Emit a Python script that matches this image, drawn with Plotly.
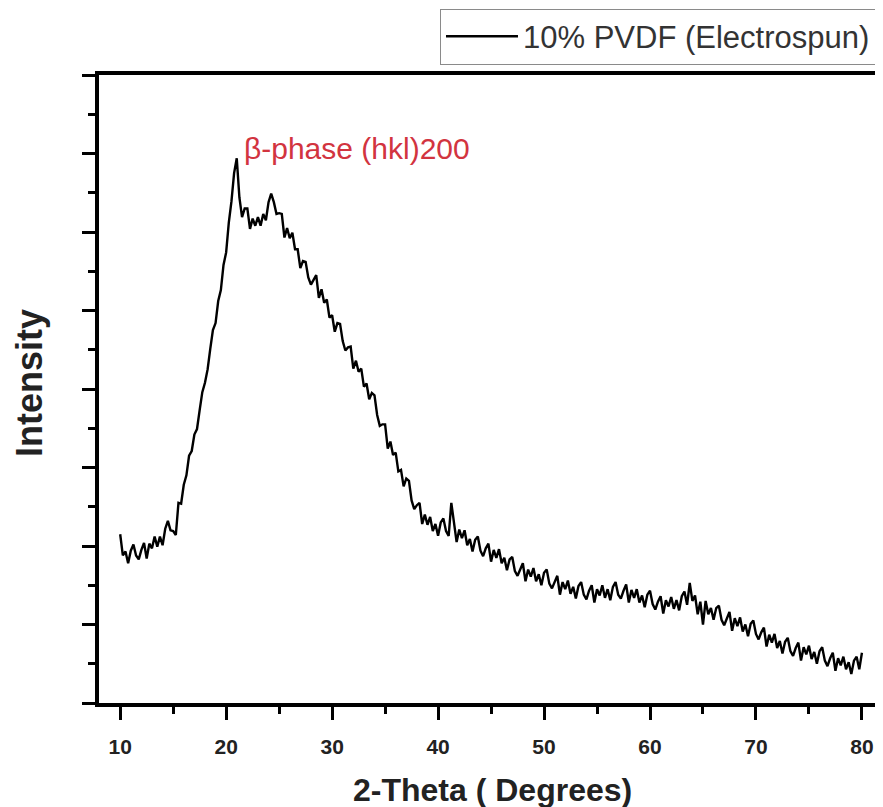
import numpy as np
import plotly.graph_objects as go

# 2-theta grid (degrees), 0.25 deg step from 10 to 80
two_theta = np.round(np.arange(10.0, 80.001, 0.25), 2)

# Intensity (arbitrary units), 4 values per degree
intensity = [
    215, 188, 193, 178,   # 10
    194, 202, 188, 183,   # 11
    195, 204, 184, 203,   # 12
    197, 212, 199, 212,   # 13
    201, 222, 232, 220,   # 14
    219, 214, 255, 254,   # 15
    278, 290, 315, 321,   # 16
    342, 349, 373, 396,   # 17
    408, 425, 451, 475,   # 18
    484, 512, 526, 558,   # 19
    574, 612, 639, 675,   # 20
    694, 644, 619, 630,   # 21
    630, 604, 617, 608,   # 22
    619, 608, 623, 615,   # 23
    638, 649, 638, 623,   # 24
    624, 623, 593, 605,   # 25
    592, 599, 578, 578,   # 26
    554, 563, 562, 542,   # 27
    533, 540, 545, 516,   # 28
    527, 510, 514, 491,   # 29
    494, 473, 484, 483,   # 30
    461, 449, 453, 454,   # 31
    426, 436, 422, 426,   # 32
    403, 407, 387, 395,   # 33
    392, 367, 353, 355,   # 34
    355, 324, 333, 316,   # 35
    319, 295, 297, 276,   # 36
    286, 283, 258, 247,   # 37
    252, 255, 228, 240,   # 38
    227, 237, 219, 228,   # 39
    213, 230, 235, 219,   # 40
    213, 255, 229, 205,   # 41
    221, 210, 220, 201,   # 42
    209, 193, 208, 212,   # 43
    194, 187, 197, 203,   # 44
    180, 195, 185, 196,   # 45
    178, 185, 169, 183,   # 46
    186, 168, 162, 171,   # 47
    178, 155, 170, 161,   # 48
    172, 155, 164, 150,   # 49
    166, 170, 152, 146,   # 50
    155, 162, 138, 154,   # 51
    145, 156, 139, 148,   # 52
    133, 149, 154, 138,   # 53
    132, 143, 150, 128,   # 54
    145, 137, 150, 134,   # 55
    145, 131, 148, 154,   # 56
    138, 133, 143, 151,   # 57
    128, 144, 134, 145,   # 58
    128, 137, 122, 138,   # 59
    143, 126, 119, 129,   # 60
    136, 114, 131, 123,   # 61
    135, 120, 131, 118,   # 62
    136, 142, 125, 153,   # 63
    130, 137, 113, 129,   # 64
    100, 130, 113, 121,   # 65
    106, 121, 124, 106,   # 66
    99, 109, 116, 92,     # 67
    108, 98, 109, 91,     # 68
    100, 85, 101, 105,    # 69
    88, 81, 90, 96,       # 70
    72, 87, 77, 88,       # 71
    70, 79, 63, 78,       # 72
    83, 66, 60, 70,       # 73
    77, 54, 71, 62,       # 74
    73, 56, 65, 50,       # 75
    66, 71, 54, 47,       # 76
    57, 64, 41, 57,       # 77
    48, 59, 43, 52,       # 78
    37, 54, 59, 43,       # 79
    64,                   # 80
]

x_ticks = [10, 20, 30, 40, 50, 60, 70, 80]
series_name = "10% PVDF (Electrospun)"
peak_label = "\u03b2-phase (hkl)200"
peak_pos = (21.5, 706)
x_title = "2-Theta ( Degrees)"
y_title = "Intensity"

FONT = "Arial, Liberation Sans, Helvetica, sans-serif"

fig = go.Figure()
fig.add_trace(go.Scatter(
    x=two_theta, y=intensity, mode="lines", name=series_name,
    line=dict(color="black", width=2.4),
))

fig.add_annotation(
    x=peak_pos[0], y=peak_pos[1], xref="x", yref="y",
    text=peak_label, showarrow=False, xanchor="left", yanchor="middle",
    font=dict(family=FONT, size=30, color="#d2343f"),
)
# axis titles
fig.add_annotation(
    x=0.5026, y=-0.138, xref="paper", yref="paper",
    text="<b>" + x_title + "</b>", showarrow=False, xanchor="center", yanchor="middle",
    font=dict(family=FONT, size=32, color="#222222"),
)
fig.add_annotation(
    x=-0.088, y=0.51, xref="paper", yref="paper",
    text="<b>" + y_title + "</b>", showarrow=False, xanchor="center", yanchor="middle",
    textangle=-90, borderpad=0,
    font=dict(family=FONT, size=36, color="#222222"),
)

axis_common = dict(
    showline=True, linewidth=3.5, linecolor="black", mirror=True,
    ticks="outside", ticklen=13, tickwidth=3, tickcolor="black",
    showgrid=False, zeroline=False, automargin=False,
)

fig.update_xaxes(
    range=[8, 81.8], tickvals=x_ticks,
    tickfont=dict(family=FONT, size=21, color="#222222", weight="bold"),
    ticklabelstandoff=9,
    minor=dict(dtick=5, tick0=10, ticks="outside", ticklen=7, tickwidth=3, tickcolor="black"),
    **axis_common,
)
fig.update_yaxes(
    range=[0, 800], dtick=100, tick0=0, showticklabels=False,
    minor=dict(dtick=50, tick0=0, ticks="outside", ticklen=7, tickwidth=3, tickcolor="black"),
    **axis_common,
)

# the page body adds an 8px offset, so the figure is sized to fit the 883x807 window
fig.update_layout(
    width=875, height=799,
    margin=dict(l=91, r=2, t=66, b=104),
    paper_bgcolor="white", plot_bgcolor="white",
    showlegend=True,
    legend=dict(
        xref="paper", yref="paper",
        x=0.9936, xanchor="right", y=1.104, yanchor="top",
        bordercolor="#8a8a8a", borderwidth=1, bgcolor="white",
        font=dict(family=FONT, size=31, color="#333333"),
        itemwidth=72,
    ),
)

fig.write_html("out.html")
